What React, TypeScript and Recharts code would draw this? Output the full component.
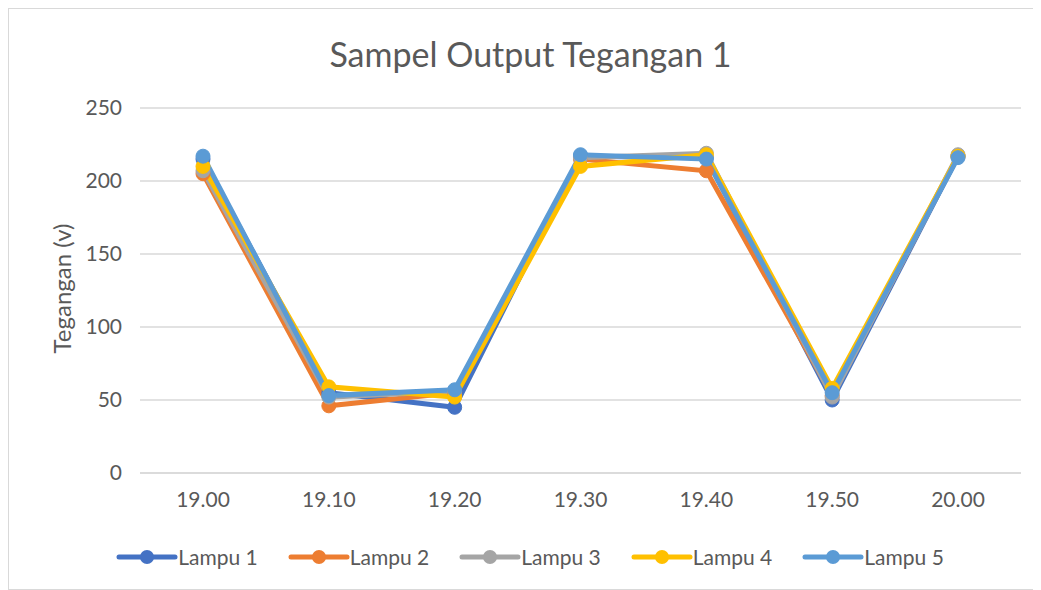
import { LineChart, Line, XAxis, YAxis, CartesianGrid, Legend } from "recharts";

const times = ["19.00", "19.10", "19.20", "19.30", "19.40", "19.50", "20.00"];
const lampu1 = [215, 55, 45, 217, 216, 50, 217];
const lampu2 = [205, 46, 55, 215, 207, 53, 217];
const lampu3 = [207, 52, 56, 216, 219, 52, 218];
const lampu4 = [210, 59, 52, 210, 218, 58, 217];
const lampu5 = [217, 53, 57, 218, 215, 55, 216];
const yTicks = [0, 50, 100, 150, 200, 250];

const series = [
  { key: "Lampu 1", values: lampu1, color: "#4472C4" },
  { key: "Lampu 2", values: lampu2, color: "#ED7D31" },
  { key: "Lampu 3", values: lampu3, color: "#A5A5A5" },
  { key: "Lampu 4", values: lampu4, color: "#FFC000" },
  { key: "Lampu 5", values: lampu5, color: "#5B9BD5" },
];

const data = times.map((t, i) => {
  const row: Record<string, string | number> = { time: t };
  series.forEach((s) => {
    row[s.key] = s.values[i];
  });
  return row;
});

const font = "Lato, 'Open Sans', sans-serif";
const textColor = "#595959";

const LegendContent = () => (
  <div style={{ display: "flex", justifyContent: "center", gap: 30, paddingLeft: 30, fontFamily: font, fontSize: 21, color: textColor }}>
    {series.map((s) => (
      <div key={s.key} style={{ display: "flex", alignItems: "center" }}>
        <svg width={62} height={20}>
          <line x1={3} y1={10} x2={59} y2={10} stroke={s.color} strokeWidth={5} strokeLinecap="round" />
          <circle cx={31} cy={10} r={7} fill={s.color} />
        </svg>
        <span>{s.key}</span>
      </div>
    ))}
  </div>
);

const YLabel = (props: any) => {
  const vb = props.viewBox || {};
  const cx = 52;
  const cy = (vb.y ?? 0) + (vb.height ?? 0) / 2 - 2;
  return (
    <text
      x={cx}
      y={cy}
      transform={`rotate(-90, ${cx}, ${cy})`}
      textAnchor="middle"
      dominantBaseline="central"
      style={{ fill: textColor, fontSize: 24, fontFamily: font }}
    >
      Tegangan (v)
    </text>
  );
};

export default function App() {
  return (
    <div style={{ position: "relative", width: 1033, height: 582, boxSizing: "border-box", border: "1px solid #d9d9d9", background: "#fff" }}>
      <div
        style={{
          position: "absolute",
          top: 24,
          left: 6,
          width: "100%",
          textAlign: "center",
          fontFamily: font,
          fontSize: 34,
          color: textColor,
        }}
      >
        Sampel Output Tegangan 1
      </div>
      <LineChart width={1031} height={580} data={data} margin={{ top: 99, right: 19, bottom: 31, left: 0 }}>
        <CartesianGrid vertical={false} stroke="#d9d9d9" strokeWidth={1.5} />
        <XAxis
          dataKey="time"
          padding={{ left: 63, right: 63 }}
          tickLine={false}
          axisLine={{ stroke: "#d9d9d9", strokeWidth: 1.5 }}
          tickSize={0}
          tickMargin={19}
          height={60}
          tick={{ fill: textColor, fontSize: 21, fontFamily: font }}
        />
        <YAxis
          domain={[0, 250]}
          ticks={yTicks}
          width={131}
          tickLine={false}
          axisLine={false}
          tickSize={0}
          tickMargin={18}
          tick={{ fill: textColor, fontSize: 21, fontFamily: font }}
          label={<YLabel />}
        />
        <Legend verticalAlign="bottom" content={<LegendContent />} wrapperStyle={{ bottom: 20 }} />
        {series.map((s) => (
          <Line
            key={s.key}
            dataKey={s.key}
            stroke={s.color}
            strokeWidth={5}
            dot={{ r: 7, fill: s.color, stroke: s.color, strokeWidth: 1 }}
            activeDot={false}
            isAnimationActive={false}
          />
        ))}
      </LineChart>
    </div>
  );
}
